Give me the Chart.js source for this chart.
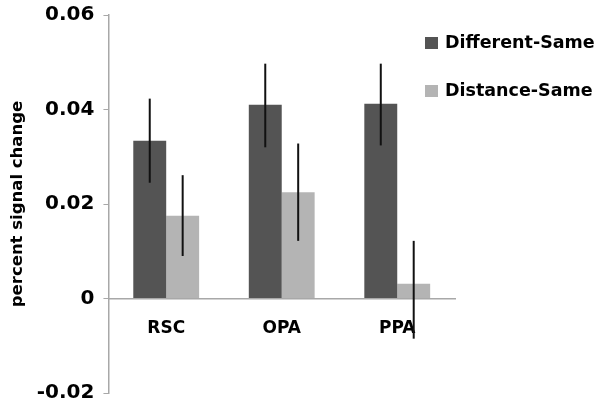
<!DOCTYPE html>
<html>
<head>
<meta charset="utf-8">
<script src="https://cdn.jsdelivr.net/npm/chart.js@4"></script>
<style>
  html, body { margin: 0; padding: 0; background: #fff; }
  #wrap { width: 601px; height: 412px; position: relative; }
</style>
</head>
<body>
<div id="wrap"><canvas id="myChart"></canvas></div>
<script>
// data
var regions = ["RSC", "OPA", "PPA"];
var seriesNames = ["Different-Same", "Distance-Same"];
var diffSame = [0.0334, 0.0410, 0.0412];
var distSame = [0.0175, 0.0225, 0.0031];
var diffErrUp = [0.0089, 0.0087, 0.0085];
var diffErrDown = [0.0089, 0.0090, 0.0088];
var distErrUp = [0.0086, 0.0103, 0.0091];
var distErrDown = [0.0085, 0.0103, 0.0116];
var yTicks = [-0.02, 0, 0.02, 0.04, 0.06];

var FONT = "'DejaVu Sans', sans-serif";
var errUp = [diffErrUp, distErrUp];
var errDown = [diffErrDown, distErrDown];

// error bars drawn on top of the bars
var errorBars = {
  id: "errorBars",
  afterDatasetsDraw: function (chart) {
    var ctx = chart.ctx;
    var y = chart.scales.y;
    ctx.save();
    ctx.strokeStyle = "#111";
    ctx.lineWidth = 2;
    chart.data.datasets.forEach(function (ds, i) {
      var meta = chart.getDatasetMeta(i);
      meta.data.forEach(function (bar, j) {
        var v = ds.data[j];
        ctx.beginPath();
        ctx.moveTo(bar.x, y.getPixelForValue(v + errUp[i][j]));
        ctx.lineTo(bar.x, y.getPixelForValue(v - errDown[i][j]));
        ctx.stroke();
      });
    });
    ctx.restore();
  }
};

// legend in the top right corner
var cornerLegend = {
  id: "cornerLegend",
  afterDraw: function (chart) {
    var ctx = chart.ctx;
    ctx.save();
    ctx.font = "bold 17.5px " + FONT;
    ctx.textBaseline = "middle";
    chart.data.datasets.forEach(function (ds, i) {
      var top = 37 + i * 48;
      ctx.fillStyle = ds.backgroundColor;
      ctx.fillRect(425, top, 13, 12);
      ctx.fillStyle = "#000";
      ctx.fillText(ds.label, 445, top + 6);
    });
    ctx.restore();
  }
};

var ctx = document.getElementById("myChart").getContext("2d");
var myChart = new Chart(ctx, {
  type: "bar",
  data: {
    labels: regions,
    datasets: [
      { label: seriesNames[0], data: diffSame, backgroundColor: "#545454" },
      { label: seriesNames[1], data: distSame, backgroundColor: "#b4b4b4" }
    ]
  },
  options: {
    responsive: true,
    maintainAspectRatio: false,
    animation: false,
    layout: { padding: { left: 8, right: 146, top: 0, bottom: 19 } },
    datasets: { bar: { barPercentage: 1, categoryPercentage: 0.57 } },
    plugins: { legend: { display: false }, tooltip: { enabled: false } },
    scales: {
      x: {
        position: { y: 0 },
        grid: { display: false },
        border: { display: true, color: "#a8a8a8", width: 1.5 },
        ticks: { color: "#000", font: { family: FONT, size: 17, weight: "bold" }, padding: 12 }
      },
      y: {
        min: -0.02,
        max: 0.06,
        afterBuildTicks: function (axis) {
          axis.ticks = yTicks.map(function (v) { return { value: v }; });
        },
        grid: { drawOnChartArea: false, drawTicks: true, tickLength: 5, color: "#a8a8a8" },
        border: { color: "#a8a8a8", width: 1.5 },
        ticks: {
          color: "#000",
          padding: 9,
          font: { family: FONT, size: 20, weight: "bold", lineHeight: 0.6 },
          callback: function (v) { return v === 0 ? "0" : (+v.toFixed(2)).toString(); }
        },
        title: {
          display: true,
          text: "percent signal change",
          color: "#000",
          font: { family: FONT, size: 16.5, weight: "bold" },
          padding: { top: 0, bottom: 0 }
        }
      }
    }
  },
  plugins: [errorBars, cornerLegend]
});
</script>
</body>
</html>
